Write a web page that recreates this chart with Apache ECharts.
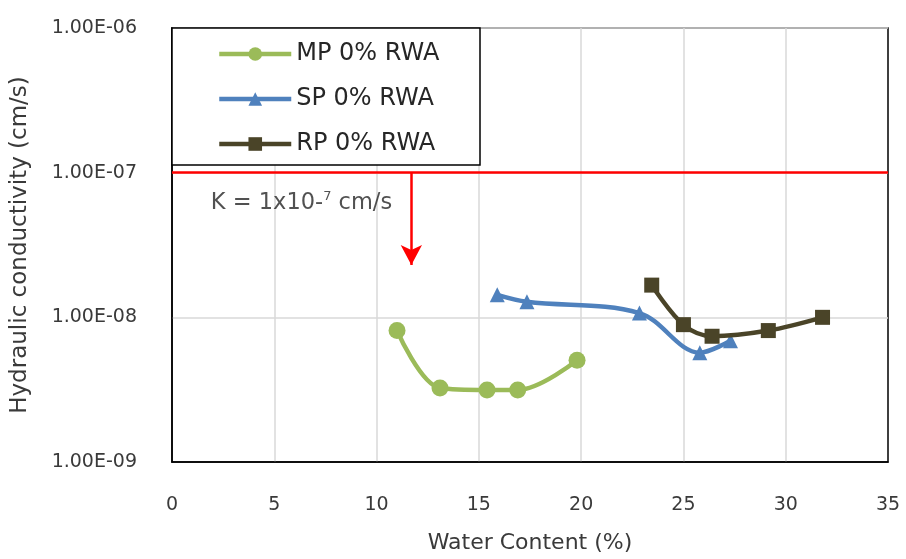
<!DOCTYPE html>
<html>
<head>
<meta charset="utf-8">
<script src="https://cdn.jsdelivr.net/npm/echarts@6/dist/echarts.min.js"></script>
<style>
  html, body { margin: 0; padding: 0; background: #fff; }
  #chart { width: 906px; height: 559px; }
</style>
</head>
<body>
<div id="chart"></div>
<script>
// Hydraulic conductivity vs. water content for three soil mixes
const mpWater = [11.0, 13.1, 15.4, 16.9, 19.8];
const mpK     = [8.1e-9, 3.25e-9, 3.15e-9, 3.15e-9, 5.05e-9];

const spWater = [15.9, 17.35, 22.85, 25.8, 27.3];
const spK     = [1.43e-8, 1.28e-8, 1.07e-8, 5.7e-9, 6.9e-9];

const rpWater = [23.45, 25.0, 26.4, 29.15, 31.8];
const rpK     = [1.67e-8, 8.9e-9, 7.4e-9, 8.1e-9, 1.0e-8];

const seriesNames = ['MP 0% RWA', 'SP 0% RWA', 'RP 0% RWA'];
const yTickLabels = ['1.00E-09', '1.00E-08', '1.00E-07', '1.00E-06'];
const xTicks = [0, 5, 10, 15, 20, 25, 30, 35];

// Design limit and its annotation
const kLimit = 1e-7;
const arrowX = 11.7;
const arrowEndK = 2.3e-8;
const limitLabelAt = [1.9, 6.2e-8];

const FONT = 'DejaVu Sans';
const TEXT = '#3a3a3a';

function pairs(xs, ys) { return xs.map((x, i) => [x, ys[i]]); }

const chart = echarts.init(document.getElementById('chart'), null, { renderer: 'canvas' });

chart.setOption({
  animation: false,
  backgroundColor: '#fff',
  grid: {
    left: 172, right: 18, top: 28, bottom: 92,
    show: true, borderColor: '#000', borderWidth: 1.5, backgroundColor: 'transparent'
  },
  xAxis: {
    type: 'value', min: xTicks[0], max: xTicks[xTicks.length - 1], interval: 5,
    name: 'Water Content (%)', nameLocation: 'middle', nameGap: 70,
    nameTextStyle: { fontFamily: FONT, fontSize: 22, color: TEXT },
    axisLine: { show: true, lineStyle: { color: '#000', width: 1.5 } },
    axisTick: { show: false },
    axisLabel: { fontFamily: FONT, fontSize: 19, color: TEXT, margin: 34 },
    splitLine: { show: true, showMinLine: false, showMaxLine: false, lineStyle: { color: '#d9d9d9', width: 1.5 } }
  },
  yAxis: {
    type: 'log', logBase: 10, min: 1e-9, max: 1e-6,
    name: 'Hydraulic conductivity (cm/s)', nameLocation: 'middle', nameGap: 140, nameRotate: 90,
    nameTextStyle: { fontFamily: FONT, fontSize: 23, color: TEXT },
    axisLine: { show: true, lineStyle: { color: '#000', width: 1.5 } },
    axisTick: { show: false },
    axisLabel: {
      fontFamily: FONT, fontSize: 19, color: TEXT, margin: 35,
      formatter: v => yTickLabels[Math.round(Math.log10(v)) + 9] || ''
    },
    splitLine: { show: true, showMinLine: false, showMaxLine: false, lineStyle: { color: '#d9d9d9', width: 1.5 } }
  },
  legend: {
    data: seriesNames,
    orient: 'vertical', left: 212, top: 37,
    itemWidth: 72, itemHeight: 17, itemGap: 21,
    lineStyle: { width: 4.5 },
    textStyle: { fontFamily: FONT, fontSize: 24, color: '#262626' },
    z: 10
  },
  graphic: [{
    type: 'rect', z: 9,
    shape: { x: 172, y: 28, width: 308, height: 137 },
    style: { fill: '#fff', stroke: '#000', lineWidth: 1.5 }
  }],
  series: [
    {
      name: seriesNames[0], type: 'line', smooth: 0.35,
      data: pairs(mpWater, mpK),
      symbol: 'circle', symbolSize: 17,
      lineStyle: { color: '#9bbb59', width: 4.5 },
      itemStyle: { color: '#9bbb59' }, z: 3
    },
    {
      name: seriesNames[1], type: 'line', smooth: 0.35,
      data: pairs(spWater, spK),
      symbol: 'triangle', symbolSize: 15,
      lineStyle: { color: '#4f81bd', width: 4.5 },
      itemStyle: { color: '#4f81bd' }, z: 3
    },
    {
      name: seriesNames[2], type: 'line', smooth: 0.35,
      data: pairs(rpWater, rpK),
      symbol: 'rect', symbolSize: 15,
      lineStyle: { color: '#4a4428', width: 4.5 },
      itemStyle: { color: '#4a4428' }, z: 4
    },
    {
      // limit line, downward arrow and its label
      name: 'limit', type: 'scatter', z: 5,
      data: [limitLabelAt],
      symbolSize: 0,
      label: {
        show: true, position: 'right', distance: 0,
        formatter: '{a|K = 1x10-}{s|7}{a| cm/s}',
        rich: {
          a: { fontFamily: FONT, fontSize: 22.5, color: '#262626' },
          s: { fontFamily: FONT, fontSize: 13, color: '#262626', verticalAlign: 'top', padding: [0, 0, 12, 0] }
        }
      },
      markLine: {
        silent: true, animation: false,
        label: { show: false },
        lineStyle: { color: '#ff0000', width: 2.5, type: 'solid' },
        data: [
          [{ coord: [xTicks[0], kLimit], symbol: 'none' }, { coord: [xTicks[xTicks.length - 1], kLimit], symbol: 'none' }],
          [{ coord: [arrowX, kLimit], symbol: 'none' }, { coord: [arrowX, arrowEndK], symbol: 'arrow', symbolSize: [16, 20] }]
        ]
      }
    }
  ]
});
</script>
</body>
</html>
